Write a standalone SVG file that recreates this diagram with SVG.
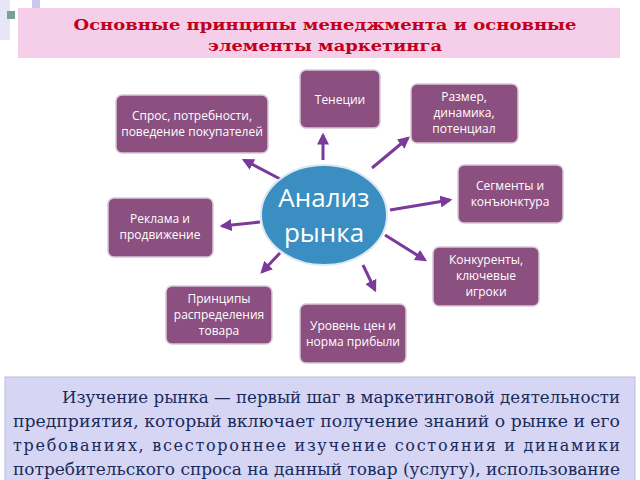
<svg xmlns="http://www.w3.org/2000/svg" width="640" height="480" viewBox="0 0 640 480">
<style>
.n rect{fill:#8b4f80;stroke:#d9c7d6;stroke-width:1.5}
.n text{fill:#fff;font-family:"Open Sans",sans-serif;font-size:12px;text-anchor:middle}
.c line{stroke:#7b3a9a;stroke-width:3;marker-end:url(#a)}
.b{font-family:"DejaVu Serif",serif;font-size:16px;fill:#1a2a5a}
</style>
<defs><marker id="a" viewBox="0 0 10 10" refX="8" refY="5" markerWidth="4" markerHeight="4" orient="auto"><path d="M0,0L10,5L0,10z" fill="#7b3a9a"/></marker></defs>
<rect width="640" height="480" fill="#fff"/>
<rect x="0" y="0" width="10" height="40" fill="#e6e6f7"/>
<rect x="32" y="0" width="8" height="10" fill="#c8c8ef"/>
<rect x="7" y="11" width="8" height="8" fill="#7aa090"/>
<g id="title"><rect x="18" y="8" width="602" height="50" fill="#f5cfea"/>
<text x="325" y="30" text-anchor="middle" font-family="DejaVu Serif,serif" font-weight="bold" font-size="15" textLength="503" lengthAdjust="spacingAndGlyphs" fill="#c0001a">Основные принципы менеджмента и основные</text>
<text x="325" y="51" text-anchor="middle" font-family="DejaVu Serif,serif" font-weight="bold" font-size="15" textLength="234" lengthAdjust="spacingAndGlyphs" fill="#c0001a">элементы маркетинга</text></g>
<g class="c">
<line x1="323" y1="160" x2="323" y2="135"/>
<line x1="282" y1="180" x2="244" y2="160"/>
<line x1="372" y1="168" x2="408" y2="138"/>
<line x1="390" y1="210" x2="450" y2="200"/>
<line x1="260" y1="222" x2="222" y2="226"/>
<line x1="385" y1="235" x2="425" y2="260"/>
<line x1="280" y1="253" x2="262" y2="272"/>
<line x1="363" y1="265" x2="375" y2="290"/>
</g>
<g id="center"><ellipse cx="324" cy="215" rx="63" ry="50" fill="#3b8ec1" stroke="#d9e8f2" stroke-width="2"/>
<text x="324" y="207" text-anchor="middle" font-family="Open Sans,sans-serif" font-size="26" fill="#fff">Анализ</text>
<text x="324" y="242" text-anchor="middle" font-family="Open Sans,sans-serif" font-size="26" fill="#fff">рынка</text></g>
<g id="n1" class="n"><rect x="300" y="70" width="80" height="58" rx="6"/><text x="340" y="104">Тенеции</text></g>
<g id="n2" class="n"><rect x="116" y="95" width="152" height="58" rx="6"/><text x="192" y="120">Спрос, потребности,</text><text x="192" y="136">поведение покупателей</text></g>
<g id="n3" class="n"><rect x="411" y="84" width="107" height="59" rx="6"/><text x="464" y="101">Размер,</text><text x="464" y="117">динамика,</text><text x="464" y="133">потенциал</text></g>
<g id="n4" class="n"><rect x="458" y="165" width="105" height="58" rx="6"/><text x="510" y="190">Сегменты и</text><text x="510" y="206">конъюнктура</text></g>
<g id="n5" class="n"><rect x="108" y="198" width="105" height="59" rx="6"/><text x="160" y="223">Реклама и</text><text x="160" y="239">продвижение</text></g>
<g id="n6" class="n"><rect x="433" y="247" width="106" height="59" rx="6"/><text x="486" y="264">Конкуренты,</text><text x="486" y="280">ключевые</text><text x="486" y="296">игроки</text></g>
<g id="n7" class="n"><rect x="166" y="286" width="106" height="58" rx="6"/><text x="219" y="303">Принципы</text><text x="219" y="319">распределения</text><text x="219" y="335">товара</text></g>
<g id="n8" class="n"><rect x="300" y="304" width="106" height="59" rx="6"/><text x="353" y="330">Уровень цен и</text><text x="353" y="346">норма прибыли</text></g>
<g id="text"><rect x="5" y="377" width="630" height="110" fill="#d6d6f4" stroke="#bbbbdd"/>
<text class="b" x="62" y="403" textLength="558" lengthAdjust="spacingAndGlyphs">Изучение рынка — первый шаг в маркетинговой деятельности</text>
<text class="b" x="13" y="427" textLength="607" lengthAdjust="spacingAndGlyphs">предприятия, который включает получение знаний о рынке и его</text>
<text class="b" x="13" y="451" textLength="607" lengthAdjust="spacing">требованиях, всестороннее изучение состояния и динамики</text>
<text class="b" x="13" y="475" textLength="607" lengthAdjust="spacingAndGlyphs">потребительского спроса на данный товар (услугу), использование</text>
</g>
</svg>
